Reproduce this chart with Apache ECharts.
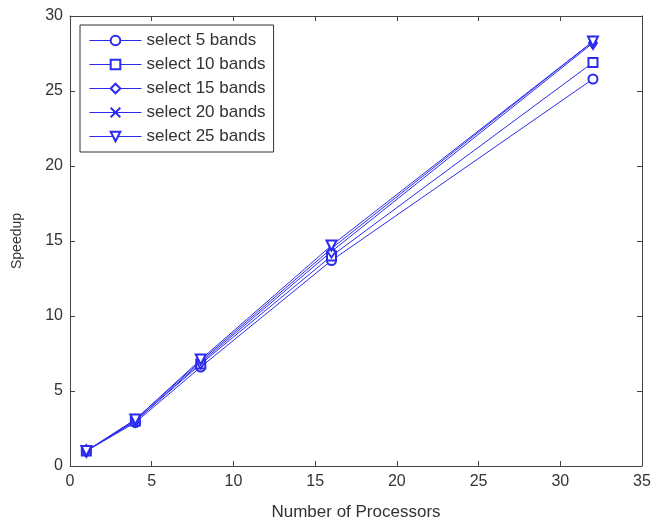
<!DOCTYPE html>
<html>
<head>
<meta charset="utf-8">
<script src="https://cdn.jsdelivr.net/npm/echarts@6/dist/echarts.min.js"></script>
<style>
  html, body { margin: 0; padding: 0; background: #fff; }
  #chart { width: 651px; height: 524px; }
</style>
</head>
<body>
<div id="chart"></div>
<script>
const processors = [1, 4, 8, 16, 32];
const bands5 = [1, 2.9, 6.6, 13.7, 25.8];
const bands10 = [1, 3.0, 6.8, 14.0, 26.9];
const bands15 = [1, 3.0, 6.9, 14.3, 28.2];
const bands20 = [1, 3.1, 7.0, 14.5, 28.3];
const bands25 = [1, 3.1, 7.1, 14.7, 28.3];
const xTicks = [0, 5, 10, 15, 20, 25, 30, 35];
const yTicks = [0, 5, 10, 15, 20, 25, 30];

const blue = '#2b2bf0';
const crossPath = 'path://M0,0L10,10M10,0L0,10';

const seriesDefs = [
  { name: 'select 5 bands', data: bands5, symbol: 'emptyCircle', size: 9 },
  { name: 'select 10 bands', data: bands10, symbol: 'emptyRect', size: 9 },
  { name: 'select 15 bands', data: bands15, symbol: 'emptyDiamond', size: [8, 12] },
  { name: 'select 20 bands', data: bands20, symbol: crossPath, size: 6 },
  { name: 'select 25 bands', data: bands25, symbol: 'emptyTriangle', size: 10, rotate: 180 }
];

const chart = echarts.init(document.getElementById('chart'));
const font = 'Liberation Sans, Arial';
const tickText = { color: '#333', fontFamily: font, fontSize: 16 };
const lineColor = '#444';

chart.setOption({
  animation: false,
  backgroundColor: '#fff',
  grid: { left: 70, right: 9, top: 16, bottom: 58, outerBoundsMode: 'none' },
  legend: {
    orient: 'vertical',
    left: 80,
    top: 25,
    padding: [7, 8, 7, 9],
    itemGap: 7,
    itemWidth: 52,
    itemHeight: 12,
    borderColor: '#333',
    borderWidth: 1,
    backgroundColor: '#fff',
    lineStyle: { width: 1 },
    textStyle: { color: '#333', fontFamily: font, fontSize: 17 },
    data: seriesDefs.map(s => s.name)
  },
  xAxis: [
    {
      type: 'value', min: 0, max: 35, interval: 5,
      name: 'Number of Processors', nameLocation: 'middle', nameGap: 38,
      nameTextStyle: { color: '#333', fontFamily: font, fontSize: 17 },
      axisLine: { onZero: false, lineStyle: { color: lineColor } },
      axisTick: { inside: true, length: 5, lineStyle: { color: lineColor } },
      axisLabel: { ...tickText, margin: 8, formatter: v => xTicks.includes(v) ? String(v) : '' },
      splitLine: { show: false }
    },
    {
      type: 'value', position: 'top', min: 0, max: 35, interval: 5,
      axisLine: { onZero: false, lineStyle: { color: lineColor } },
      axisTick: { inside: true, length: 5, lineStyle: { color: lineColor } },
      axisLabel: { show: false },
      splitLine: { show: false }
    }
  ],
  yAxis: [
    {
      type: 'value', min: 0, max: 30, interval: 5,
      name: 'Speedup', nameLocation: 'middle', nameGap: 46,
      nameTextStyle: { color: '#333', fontFamily: font, fontSize: 14 },
      axisLine: { show: true, onZero: false, lineStyle: { color: lineColor } },
      axisTick: { show: true, inside: true, length: 5, lineStyle: { color: lineColor } },
      axisLabel: { ...tickText, margin: 7, formatter: v => yTicks.includes(v) ? String(v) : '' },
      splitLine: { show: false }
    },
    {
      type: 'value', position: 'right', min: 0, max: 30, interval: 5,
      axisLine: { show: true, onZero: false, lineStyle: { color: lineColor } },
      axisTick: { show: true, inside: true, length: 5, lineStyle: { color: lineColor } },
      axisLabel: { show: false },
      splitLine: { show: false }
    }
  ],
  series: seriesDefs.map(s => ({
    name: s.name,
    type: 'line',
    xAxisIndex: 0,
    yAxisIndex: 0,
    data: processors.map((p, i) => [p, s.data[i]]),
    symbol: s.symbol,
    symbolSize: s.size,
    symbolRotate: s.rotate || 0,
    showAllSymbol: true,
    color: blue,
    lineStyle: { color: blue, width: 1 },
    itemStyle: { borderColor: blue, borderWidth: 1.2 },
    emphasis: { disabled: true }
  }))
});
</script>
</body>
</html>
